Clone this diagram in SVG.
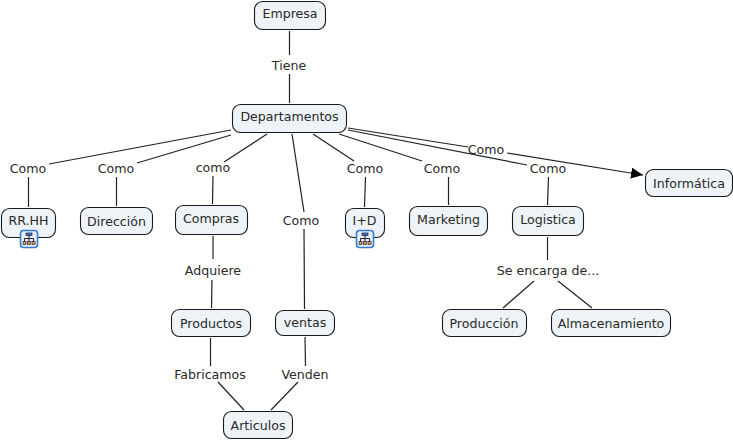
<svg xmlns="http://www.w3.org/2000/svg" width="733" height="440" viewBox="0 0 733 440">
<style>
text{font-family:"DejaVu Sans",sans-serif;font-size:12.6px;fill:#2a2a2a;text-anchor:middle}
.n rect{fill:#edf3f6;stroke:#1a1a1a;stroke-width:1.1}
.c line{stroke:#222;stroke-width:1.2}
.ic .f{fill:#e6effa;stroke:#3a7bd5;stroke-width:1.6}
.ic path{fill:none;stroke:#223;stroke-width:1}
.ic .b{fill:#d9a05a;stroke:#223;stroke-width:.7}
.ic .t{fill:#3a6fd0;stroke:#223;stroke-width:.7}
</style>
<defs>
<marker id="a" markerUnits="userSpaceOnUse" markerWidth="14" markerHeight="12" refX="12" refY="5.500" orient="auto"><path d="M0 0L12 5.500L0 11Z" fill="#000"/></marker>
<g id="ic" class="ic"><rect class="f" x="0" y="0" width="17" height="17" rx="3"/><path d="M8.500 4V8M4 11V8H13V11M8.500 8V11"/><rect class="t" x="5.500" y="2.500" width="6" height="2.500"/><rect class="b" x="2.500" y="11" width="3" height="3"/><rect class="b" x="7" y="11" width="3" height="3"/><rect class="b" x="11.500" y="11" width="3" height="3"/></g>
</defs>
<g id="connectors" class="c">
<line x1="289.500" y1="31" x2="289.500" y2="55"/><line x1="289.500" y1="74" x2="289.500" y2="103"/>
<line x1="231" y1="130" x2="49" y2="164"/><line x1="28.500" y1="177" x2="28.500" y2="207"/>
<line x1="231" y1="135" x2="137" y2="163"/><line x1="116.500" y1="177" x2="116.500" y2="206"/>
<line x1="267" y1="134" x2="224" y2="162"/><line x1="213" y1="176" x2="212.500" y2="204"/>
<line x1="213" y1="236" x2="213" y2="259"/><line x1="212" y1="280" x2="211.500" y2="308"/>
<line x1="210.500" y1="338" x2="210.500" y2="366"/><line x1="218" y1="382" x2="244" y2="410"/>
<line x1="292" y1="134" x2="304" y2="212"/><line x1="304" y1="229" x2="304.500" y2="309"/>
<line x1="305" y1="337" x2="305.500" y2="366"/><line x1="298" y1="382" x2="271" y2="410"/>
<line x1="313" y1="134" x2="354" y2="161"/><line x1="365.500" y1="177" x2="364.500" y2="207"/>
<line x1="339" y1="134" x2="422" y2="161"/><line x1="448.500" y1="177" x2="448.500" y2="205"/>
<line x1="348" y1="130" x2="527" y2="165"/><line x1="548.500" y1="177" x2="547.500" y2="205"/>
<line x1="547.500" y1="237" x2="547.500" y2="260"/><line x1="534" y1="281" x2="503" y2="308"/><line x1="558" y1="281" x2="592" y2="308"/>
<line x1="348" y1="128" x2="468" y2="147"/><line x1="507" y1="153" x2="643" y2="175" marker-end="url(#a)"/>
</g>
<g id="empresa" class="n"><rect x="254.500" y="1.500" width="71" height="28" rx="8"/><text x="290" y="18">Empresa</text></g>
<g id="departamentos" class="n"><rect x="232.500" y="104.500" width="114" height="28" rx="8"/><text x="289.500" y="121">Departamentos</text></g>
<g id="rrhh" class="n"><rect x="1.500" y="208.500" width="54" height="29" rx="8"/><text x="28.500" y="225">RR.HH</text><use href="#ic" x="20.500" y="230.500"/></g>
<g id="direccion" class="n"><rect x="80.500" y="207.500" width="72" height="27" rx="8"/><text x="116.500" y="226">Dirección</text></g>
<g id="compras" class="n"><rect x="175.500" y="205.500" width="72" height="29" rx="8"/><text x="211" y="223">Compras</text></g>
<g id="id" class="n"><rect x="345.500" y="208.500" width="39" height="29" rx="8"/><text x="364.500" y="225">I+D</text><use href="#ic" x="356.500" y="230.500"/></g>
<g id="marketing" class="n"><rect x="409.500" y="206.500" width="78" height="29" rx="8"/><text x="448.500" y="224">Marketing</text></g>
<g id="logistica" class="n"><rect x="512.500" y="206.500" width="71" height="29" rx="8"/><text x="548" y="224">Logistica</text></g>
<g id="informatica" class="n"><rect x="645.500" y="169.500" width="87" height="27" rx="8"/><text x="689" y="188">Informática</text></g>
<g id="productos" class="n"><rect x="171.500" y="309.500" width="79" height="27" rx="8"/><text x="211" y="328">Productos</text></g>
<g id="ventas" class="n"><rect x="275.500" y="310.500" width="59" height="25" rx="8"/><text x="305" y="327">ventas</text></g>
<g id="produccion" class="n"><rect x="442.500" y="309.500" width="84" height="27" rx="8"/><text x="484" y="328">Producción</text></g>
<g id="almacenamiento" class="n"><rect x="551.500" y="309.500" width="119" height="27" rx="8"/><text x="611" y="328">Almacenamiento</text></g>
<g id="articulos" class="n"><rect x="223.500" y="411.500" width="69" height="27" rx="8"/><text x="258" y="430">Articulos</text></g>
<g id="labels">
<text x="289" y="70">Tiene</text><text x="28" y="173">Como</text><text x="116" y="173">Como</text><text x="213" y="172">como</text>
<text x="301" y="225">Como</text><text x="365" y="173">Como</text><text x="442" y="173">Como</text><text x="548" y="173">Como</text><text x="486" y="154">Como</text>
<text x="213" y="275">Adquiere</text><text x="210" y="379">Fabricamos</text><text x="305" y="379">Venden</text><text x="548" y="275">Se encarga de...</text>
</g>
</svg>
